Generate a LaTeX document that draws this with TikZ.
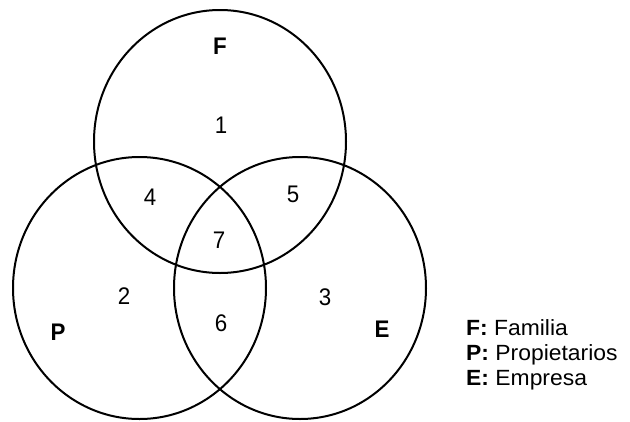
\documentclass[tikz,border=0pt]{standalone}
\usepackage{fontspec}
\setmainfont{Liberation Sans}[FakeStretch=0.93]
\newfontfamily\legfont{Liberation Sans}[FakeStretch=1.04]
\begin{document}
\begin{tikzpicture}[x=1pt,y=-1pt,
  ring/.style={draw=black,line width=2pt},
  num/.style={font=\fontsize{24}{24}\selectfont,inner sep=0pt},
  setlab/.style={font=\fontsize{24}{24}\selectfont\bfseries,inner sep=0pt},
  leg/.style={font=\legfont\fontsize{22}{22}\selectfont,inner sep=0pt,anchor=base west}]
\useasboundingbox (0,0) rectangle (630,421);
\draw[ring] (220,141.5) ellipse [x radius=126, y radius=131.5];
\draw[ring] (139.5,288) ellipse [x radius=126.5, y radius=131];
\draw[ring] (300,288) ellipse [x radius=126, y radius=131];
\node[setlab] (F) at (220,46) {F};
\node[setlab] (P) at (58,332) {P};
\node[setlab] (E) at (382,329) {E};
\node[num] (n1) at (221,125) {1};
\node[num] (n2) at (124,296) {2};
\node[num] (n3) at (325,297) {3};
\node[num] (n4) at (150,197) {4};
\node[num] (n5) at (293,194) {5};
\node[num] (n6) at (221,323) {6};
\node[num] (n7) at (219,240) {7};
\node[leg] (l1) at (466,335) {\textbf{F:} Familia};
\node[leg] (l2) at (466,360) {\textbf{P:} Propietarios};
\node[leg] (l3) at (466,385) {\textbf{E:} Empresa};
\end{tikzpicture}
\end{document}
